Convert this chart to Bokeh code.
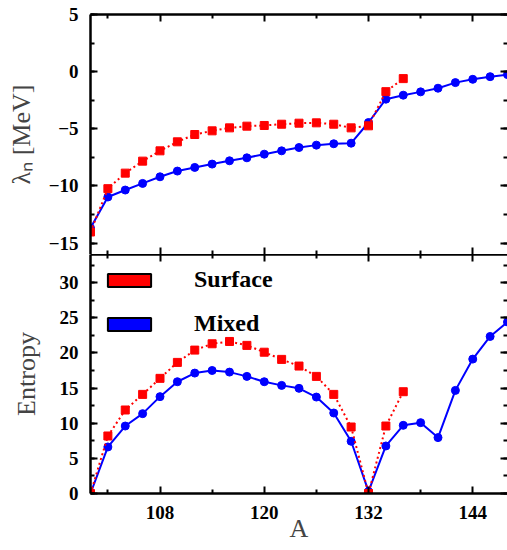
from bokeh.plotting import figure
from bokeh.layouts import column
from bokeh.models import (Range1d, LinearAxis, FixedTicker, SingleIntervalTicker,
                          Legend, LegendItem)
from bokeh.embed import file_html
from bokeh.resources import INLINE

# ---- data ----
A_mixed = [100, 102, 104, 106, 108, 110, 112, 114, 116, 118, 120, 122, 124,
           126, 128, 130, 132, 134, 136, 138, 140, 142, 144, 146, 148]
A_surface = [100, 102, 104, 106, 108, 110, 112, 114, 116, 118, 120, 122, 124,
             126, 128, 130, 132, 134, 136]

lam_surface = [-14.03, -10.24, -8.88, -7.83, -6.93, -6.14, -5.50, -5.18, -4.92,
               -4.77, -4.71, -4.60, -4.51, -4.48, -4.60, -4.92, -4.74, -1.75, -0.61]
lam_mixed = [-13.68, -10.97, -10.36, -9.78, -9.20, -8.70, -8.38, -8.09, -7.80,
             -7.54, -7.22, -6.93, -6.64, -6.43, -6.31, -6.26, -4.45, -2.41, -2.06,
             -1.77, -1.45, -0.96, -0.67, -0.44, -0.26]

ent_surface = [0.0, 8.18, 11.88, 14.10, 16.38, 18.65, 20.40, 21.30, 21.63, 21.07,
               20.10, 19.08, 18.13, 16.66, 14.10, 9.46, 0.0, 9.60, 14.48]
ent_mixed = [0.0, 6.62, 9.60, 11.36, 13.78, 15.90, 17.13, 17.50, 17.27, 16.66,
             15.90, 15.38, 14.96, 13.72, 11.45, 7.43, 0.30, 6.76, 9.70, 10.08,
             7.95, 14.67, 19.12, 22.34, 24.40]

x_major = [108, 120, 132, 144]
x_minor = [102, 114, 126, 138]

series_names = ["Surface", "Mixed"]
RED = "#ff0000"
BLUE = "#0000ff"
SERIF = "Liberation Serif"
NAN = float("nan")


def make_axis(ticker, show_labels, line=True, label=None, label_standoff=0):
    ax = LinearAxis(ticker=ticker)
    ax.major_tick_in = 7
    ax.major_tick_out = 0
    ax.minor_tick_in = 4
    ax.minor_tick_out = 0
    ax.major_tick_line_width = 2
    ax.minor_tick_line_width = 2
    ax.axis_line_width = 2.5 if line else 0
    ax.axis_line_color = "black" if line else None
    if show_labels:
        ax.major_label_text_font = SERIF
        ax.major_label_text_font_style = "bold"
        ax.major_label_text_font_size = "19px"
        ax.major_label_text_color = "black"
        ax.major_label_standoff = 12
    else:
        ax.major_label_text_font_size = "1px"
        ax.major_label_text_color = None
        ax.major_label_standoff = 0
    if label is not None:
        ax.axis_label = label
        ax.axis_label_text_font = SERIF
        ax.axis_label_text_font_style = "normal"
        ax.axis_label_text_font_size = "26px"
        ax.axis_label_text_color = "#444444"
        ax.axis_label_standoff = label_standoff
    return ax


def xt():
    return FixedTicker(ticks=x_major, minor_ticks=x_minor)


def yt():
    return SingleIntervalTicker(interval=5, num_minor_ticks=2)


# ---- top panel ----
p1 = figure(width=507, height=254, x_range=Range1d(100, 148),
            y_range=Range1d(-16, 5), output_backend="svg",
            toolbar_location=None, x_axis_type=None, y_axis_type=None,
            min_border_left=90, min_border_right=0, min_border_top=14,
            min_border_bottom=0)
p1.outline_line_color = None
p1.add_layout(make_axis(yt(), True, label="λₙ [MeV]", label_standoff=10), "left")
p1.add_layout(make_axis(yt(), False, line=False), "right")
p1.add_layout(make_axis(xt(), False), "above")
p1.add_layout(make_axis(xt(), False, line=False), "below")

p1.line(A_mixed, lam_mixed, line_color=BLUE, line_width=2)
p1.scatter(A_mixed, lam_mixed, marker="circle", size=8, fill_color=BLUE,
           line_color=BLUE)
p1.line(A_surface, lam_surface, line_color=RED, line_width=2, line_dash="2 3")
p1.scatter(A_surface, lam_surface, marker="square", size=8, fill_color=RED,
           line_color=RED)

# ---- bottom panel ----
p2 = figure(width=507, height=296, x_range=p1.x_range,
            y_range=Range1d(0, 34), output_backend="svg",
            toolbar_location=None, x_axis_type=None, y_axis_type=None,
            min_border_left=90, min_border_right=0, min_border_top=0,
            min_border_bottom=57)
p2.outline_line_color = None
p2.add_layout(make_axis(yt(), True, label="Entropy", label_standoff=16), "left")
p2.add_layout(make_axis(yt(), False, line=False), "right")
p2.add_layout(make_axis(xt(), False), "above")
p2.add_layout(make_axis(xt(), True, label="A", label_standoff=-8), "below")

p2.line(A_mixed, ent_mixed, line_color=BLUE, line_width=2)
p2.scatter(A_mixed, ent_mixed, marker="circle", size=8, fill_color=BLUE,
           line_color=BLUE)
p2.line(A_surface, ent_surface, line_color=RED, line_width=2, line_dash="2 3")
p2.scatter(A_surface, ent_surface, marker="square", size=8, fill_color=RED,
           line_color=RED)

# legend proxies (not drawn in the plot: NaN positions)
leg_s = p2.rect(x=[NAN], y=[NAN], width=1, height=1, fill_color=RED,
                line_color="black", line_width=2)
leg_m = p2.rect(x=[NAN], y=[NAN], width=1, height=1, fill_color=BLUE,
                line_color="black", line_width=2)

legend = Legend(items=[LegendItem(label=series_names[0], renderers=[leg_s]),
                       LegendItem(label=series_names[1], renderers=[leg_m])],
                location=(12, 156), orientation="vertical")
legend.glyph_width = 54
legend.glyph_height = 16
legend.label_standoff = 38
legend.label_height = 16
legend.spacing = 17
legend.padding = 0
legend.margin = 0
legend.border_line_color = None
legend.background_fill_alpha = 0
legend.label_text_font = SERIF
legend.label_text_font_style = "bold"
legend.label_text_font_size = "24px"
legend.label_text_color = "black"
p2.add_layout(legend, "center")

layout = column(p1, p2, spacing=0)
open("out.html", "w").write(file_html(layout, INLINE))
